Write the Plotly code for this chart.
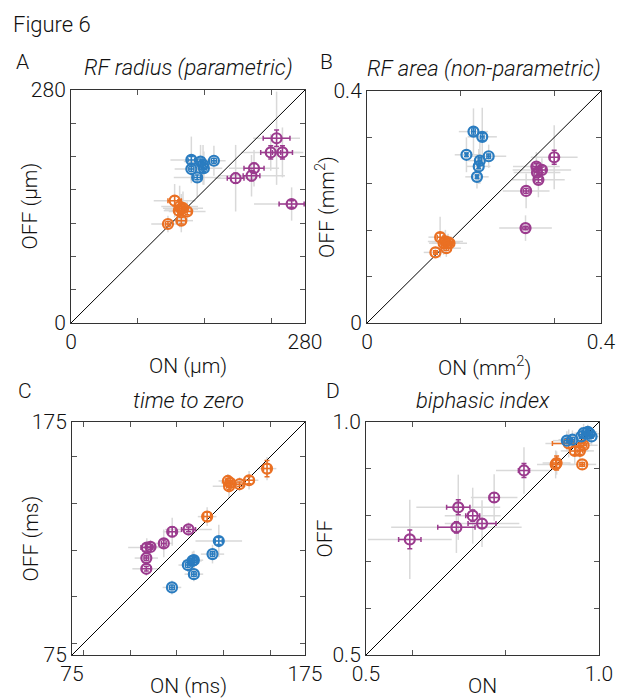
import plotly.graph_objects as go

W, H = 626, 698

# columns: ON, OFF, ON err (colored), OFF err (colored), ON spread (gray), OFF spread (gray)
A_blue = [(144, 196, 4, 4, 25, 28), (155, 194, 4, 3, 20, 20), (158, 190, 3, 3, 18, 24),
          (159, 186, 3, 4, 22, 20), (171, 195, 3, 3, 14, 18), (144, 185, 3, 3, 20, 14),
          (151, 175, 4, 3, 28, 24)]
A_orange = [(124, 147, 8, 6, 25, 20), (130, 140, 6, 8, 22, 25), (132, 137, 5, 5, 20, 18),
            (129, 135, 5, 5, 18, 15), (139, 134, 5, 4, 22, 12), (132, 123, 5, 4, 14, 14),
            (116, 119, 3, 3, 20, 10), (134, 138, 6, 6, 24, 20)]
A_purple = [(246, 222, 16, 10, 28, 56), (239, 205, 12, 8, 35, 22), (253, 205, 12, 8, 25, 30),
            (219, 186, 12, 6, 30, 22), (216, 177, 10, 6, 40, 25), (197, 174, 10, 6, 25, 40),
            (264, 143, 15, 4, 45, 20)]

B_blue = [(0.182, 0.330, 0.003, 0.006, 0.025, 0.04), (0.197, 0.321, 0.003, 0.006, 0.025, 0.05),
          (0.170, 0.290, 0.002, 0.003, 0.02, 0.03), (0.208, 0.2875, 0.003, 0.004, 0.03, 0.02),
          (0.193, 0.280, 0.003, 0.005, 0.02, 0.04), (0.191, 0.270, 0.002, 0.004, 0.02, 0.03),
          (0.188, 0.252, 0.002, 0.003, 0.02, 0.02)]
B_orange = [(0.125, 0.148, 0.005, 0.007, 0.02, 0.035), (0.134, 0.1406, 0.004, 0.004, 0.03, 0.02),
            (0.1385, 0.139, 0.004, 0.004, 0.02, 0.015), (0.141, 0.1377, 0.003, 0.003, 0.03, 0.01),
            (0.1356, 0.129, 0.004, 0.004, 0.025, 0.015), (0.117, 0.1217, 0.003, 0.003, 0.02, 0.008),
            (0.131, 0.1377, 0.004, 0.004, 0.025, 0.02)]
B_purple = [(0.320, 0.2858, 0.007, 0.012, 0.04, 0.055), (0.2895, 0.2697, 0.006, 0.005, 0.04, 0.025),
            (0.299, 0.264, 0.006, 0.005, 0.05, 0.02), (0.2906, 0.2594, 0.005, 0.005, 0.04, 0.02),
            (0.293, 0.2468, 0.006, 0.005, 0.045, 0.03), (0.272, 0.2278, 0.005, 0.004, 0.04, 0.03),
            (0.271, 0.1636, 0.006, 0.003, 0.045, 0.022)]

C_orange = [(158.7, 155, 1.5, 3.5, 4, 5), (151, 150, 2, 1.5, 4, 4), (146.9, 148.3, 1.5, 1, 5, 3),
            (141.9, 149.7, 1, 1, 4, 3), (142.9, 148.9, 1, 1, 4, 3), (142.4, 147.4, 1, 1.5, 7, 5),
            (133, 134.4, 1.5, 2, 4, 4)]
C_purple = [(125, 128.9, 3, 1, 10, 3), (118, 127.9, 1.5, 2, 4, 6), (114.4, 122.9, 1, 1.5, 4, 6),
            (107.1, 121.1, 2.5, 1.5, 8, 4), (108.7, 121.4, 1.5, 1, 4, 3), (106.9, 116.6, 1, 1, 5, 4),
            (106.9, 112, 2, 1, 6, 3)]
C_blue = [(138, 123.9, 1.5, 1.5, 10, 7), (135.3, 118.3, 1, 1, 5, 4), (127.3, 115.7, 1, 1, 4, 4),
          (126.7, 115.4, 1, 1, 4, 4), (124.7, 113.6, 1, 1, 4, 3), (127.3, 109.7, 1, 1, 4, 3),
          (117.9, 104, 1, 1, 4, 3)]

D_purple = [(0.594, 0.748, 0.024, 0.02, 0.09, 0.085), (0.694, 0.774, 0.04, 0.012, 0.14, 0.055),
            (0.698, 0.817, 0.025, 0.016, 0.09, 0.07), (0.729, 0.799, 0.015, 0.012, 0.06, 0.06),
            (0.749, 0.782, 0.03, 0.01, 0.08, 0.05), (0.775, 0.838, 0.01, 0.01, 0.05, 0.05),
            (0.839, 0.896, 0.012, 0.015, 0.06, 0.05)]
D_orange = [(0.907, 0.909, 0.01, 0.01, 0.04, 0.03), (0.909, 0.912, 0.008, 0.015, 0.03, 0.025),
            (0.948, 0.938, 0.01, 0.008, 0.03, 0.03), (0.959, 0.938, 0.006, 0.008, 0.03, 0.02),
            (0.935, 0.954, 0.035, 0.01, 0.05, 0.03), (0.967, 0.950, 0.006, 0.006, 0.03, 0.02),
            (0.964, 0.909, 0.005, 0.004, 0.03, 0.01)]
D_blue = [(0.931, 0.960, 0.006, 0.005, 0.03, 0.02), (0.943, 0.962, 0.005, 0.005, 0.03, 0.02),
          (0.967, 0.976, 0.004, 0.004, 0.02, 0.02), (0.980, 0.975, 0.003, 0.004, 0.02, 0.015),
          (0.984, 0.969, 0.003, 0.003, 0.015, 0.02), (0.976, 0.979, 0.003, 0.003, 0.02, 0.015),
          (0.962, 0.969, 0.004, 0.004, 0.02, 0.02)]

ranges = {"A": (0, 280), "B": (0, 0.4), "C": (75, 175), "D": (0.5, 1.0)}
x_ticks = {"A": [0, 80, 160, 240, 280], "B": [0, 0.16, 0.32, 0.4],
           "C": [75, 80, 100, 120, 140, 160, 175], "D": [0.5, 0.6, 0.8, 1.0]}
y_ticks = {"A": [0, 40, 80, 120, 160, 200, 240, 280], "B": [0, 0.08, 0.16, 0.24, 0.32, 0.4],
           "C": [75, 80, 100, 120, 140, 160, 175], "D": [0.5, 0.6, 0.7, 0.8, 0.9, 1.0]}
end_labels = {"A": ("0", "280"), "B": ("0", "0.4"), "C": ("75", "175"), "D": ("0.5", "1.0")}
titles = {"A": "RF radius (parametric)", "B": "RF area (non-parametric)",
          "C": "time to zero", "D": "biphasic index"}
x_titles = {"A": "ON (µm)", "B": "ON (mm<sup>2</sup>)", "C": "ON (ms)", "D": "ON"}
y_titles = {"A": "OFF (µm)", "B": "OFF (mm<sup>2</sup>)", "C": "OFF (ms)", "D": "OFF"}

panel_data = {"A": [("blue", A_blue), ("orange", A_orange), ("purple", A_purple)],
              "B": [("blue", B_blue), ("orange", B_orange), ("purple", B_purple)],
              "C": [("orange", C_orange), ("purple", C_purple), ("blue", C_blue)],
              "D": [("purple", D_purple), ("orange", D_orange), ("blue", D_blue)]}

COLORS = {"blue": "#2a7cc0", "orange": "#ea7023", "purple": "#9b3b8e"}
GRAY = "#d9d9d9"
FONT = "Roboto, Liberation Sans, Arial, sans-serif"
TXT = "#111111"

# pixel boxes of panels (left, right, top, bottom)
boxes = {"A": (71, 305, 90, 323), "B": (367, 601, 91, 323),
         "C": (72, 305, 422, 655), "D": (366, 599, 422, 655)}
axis_ids = {"A": ("x", "y"), "B": ("x2", "y2"), "C": ("x3", "y3"), "D": ("x4", "y4")}
xtitle_y = {"A": 366, "B": 366, "C": 686, "D": 686}

def px(x):
    return x / W

def py(y):
    return 1 - y / H

def fnt(size):
    return dict(family=FONT, size=size, color=TXT, weight=300)

fig = go.Figure()
layout = dict(width=W, height=H, margin=dict(l=0, r=0, t=0, b=0, autoexpand=False),
              template="none",
              paper_bgcolor="white", plot_bgcolor="white", showlegend=False,
              font=fnt(21))
annotations = []

for key in "ABCD":
    xa, ya = axis_ids[key]
    l, r, t, b = boxes[key]
    lo, hi = ranges[key]
    xname = "xaxis" + xa[1:]
    yname = "yaxis" + ya[1:]

    def ticktext(vals):
        return [end_labels[key][0] if v == lo else (end_labels[key][1] if v == hi else "") for v in vals]

    common = dict(range=[lo, hi], showgrid=False, zeroline=False, showline=True, automargin=False,
                  linecolor="#333333", linewidth=1, mirror="ticks", ticks="inside",
                  ticklen=5, tickcolor="#555555", tickwidth=1, tickmode="array",
                  tickfont=fnt(21))
    layout[xname] = dict(common, domain=[px(l), px(r)], anchor=ya,
                         tickvals=x_ticks[key], ticktext=ticktext(x_ticks[key]))
    layout[yname] = dict(common, domain=[py(b), py(t)], anchor=xa,
                         tickvals=y_ticks[key], ticktext=ticktext(y_ticks[key]))

    # gray spread bars
    for cname, rows in panel_data[key]:
        fig.add_trace(go.Scatter(
            x=[r_[0] for r_ in rows], y=[r_[1] for r_ in rows], xaxis=xa, yaxis=ya,
            mode="markers", marker=dict(size=1, color="rgba(0,0,0,0)"),
            error_x=dict(type="data", array=[r_[4] for r_ in rows], color=GRAY, thickness=1.5, width=0),
            error_y=dict(type="data", array=[r_[5] for r_ in rows], color=GRAY, thickness=1.5, width=0),
            hoverinfo="skip"))
    # unity line
    fig.add_trace(go.Scatter(x=[lo, hi], y=[lo, hi], xaxis=xa, yaxis=ya, mode="lines",
                             line=dict(color="black", width=1), hoverinfo="skip"))
    # colored points with error bars
    for cname, rows in panel_data[key]:
        c = COLORS[cname]
        fig.add_trace(go.Scatter(
            x=[r_[0] for r_ in rows], y=[r_[1] for r_ in rows], xaxis=xa, yaxis=ya,
            mode="markers",
            marker=dict(symbol="circle-open", size=10, color=c, line=dict(width=2.2, color=c)),
            error_x=dict(type="data", array=[r_[2] for r_ in rows], color=c, thickness=1.5, width=2.5),
            error_y=dict(type="data", array=[r_[3] for r_ in rows], color=c, thickness=1.5, width=2.5)))

    cx = (l + r) / 2
    cy = (t + b) / 2
    annotations.append(dict(text=x_titles[key], x=px(cx), y=py(xtitle_y[key]), xref="paper", yref="paper",
                            showarrow=False, xanchor="center", yanchor="middle", font=fnt(21)))
    annotations.append(dict(text=y_titles[key], x=px(l - 42), y=py(cy), xref="paper", yref="paper",
                            showarrow=False, xanchor="center", yanchor="middle", textangle=-90,
                            font=fnt(21)))
    annotations.append(dict(text="<i>" + titles[key] + "</i>", x=px(cx), y=py(t - 22), xref="paper",
                            yref="paper", showarrow=False, xanchor="center", yanchor="middle",
                            font=fnt(22)))

letters = {"A": (14, 62), "B": (318, 62), "C": (16, 391), "D": (324, 391)}
for k, (x, y) in letters.items():
    annotations.append(dict(text=k, x=px(x), y=py(y), xref="paper", yref="paper", showarrow=False,
                            xanchor="left", yanchor="middle", font=fnt(21)))
annotations.append(dict(text="Figure 6", x=px(11), y=py(24), xref="paper", yref="paper",
                        showarrow=False, xanchor="left", yanchor="middle", font=fnt(22)))

layout["annotations"] = annotations
fig.update_layout(**layout)
fig.write_html("out.html")
